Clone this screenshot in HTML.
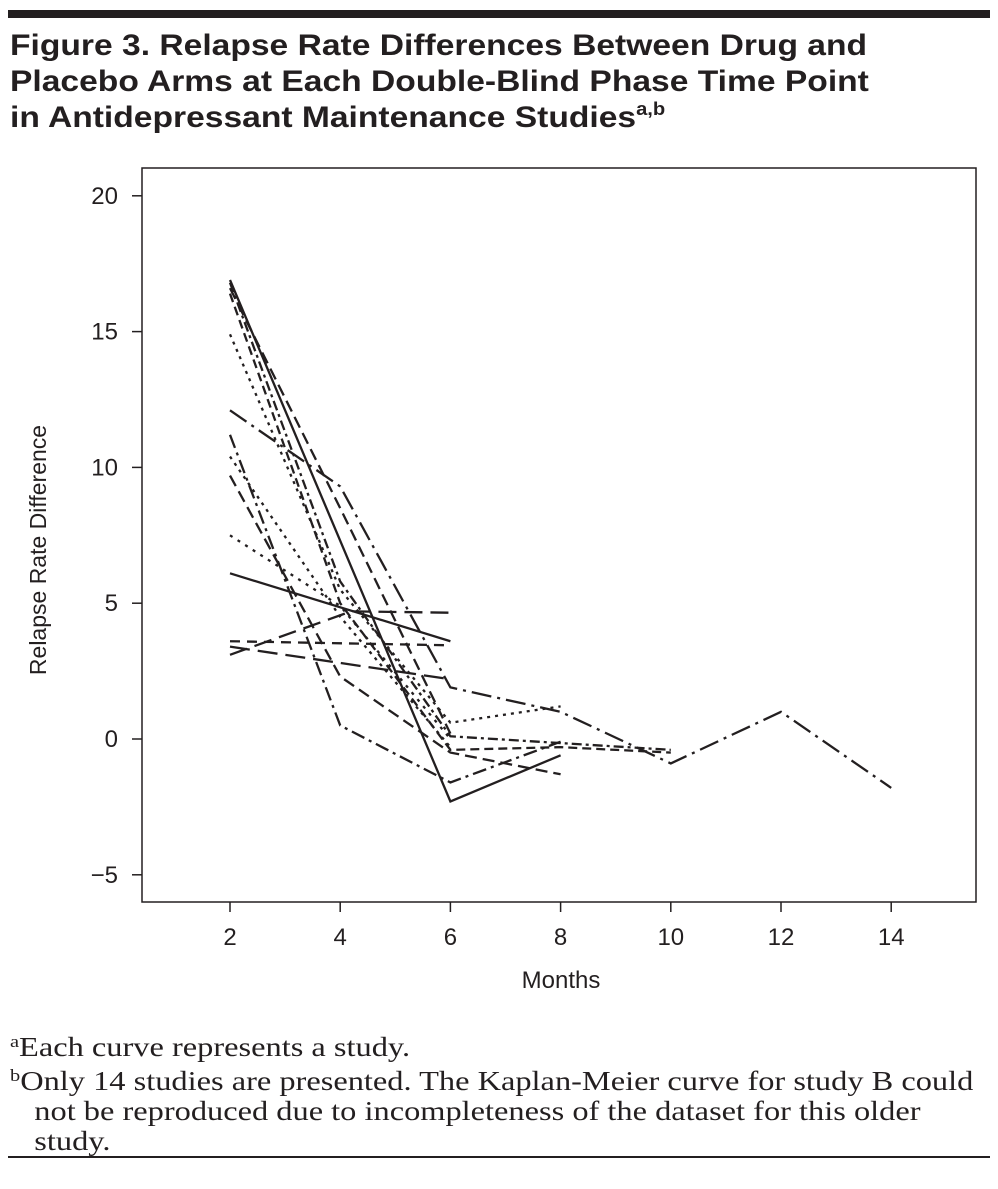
<!DOCTYPE html>
<html><head><meta charset="utf-8"><style>
body{margin:0;width:998px;height:1189px;background:#fff;position:relative;font-family:"Liberation Sans",sans-serif;overflow:hidden}
.rule{position:absolute;left:8px;width:982px;background:#231f20}
#title{position:absolute;left:10px;top:28px;font-weight:bold;font-size:30px;line-height:36px;color:#231f20;transform:scaleX(1.12);transform-origin:0 0;white-space:nowrap}
#title sup{font-size:18px;vertical-align:12px;line-height:0}
.fn{position:absolute;left:10px;font-family:"Liberation Serif",serif;font-size:27px;line-height:30px;color:#231f20;transform:scaleX(1.2);transform-origin:0 0;white-space:nowrap}
.fn sup{font-size:17px;vertical-align:9px;line-height:0}
</style></head><body>
<div class="rule" style="top:10px;height:8px"></div>
<div id="title">Figure 3. Relapse Rate Differences Between Drug and<br>Placebo Arms at Each Double-Blind Phase Time Point<br>in Antidepressant Maintenance Studies<sup>a,b</sup></div>
<svg id="chart" width="998" height="1189" style="position:absolute;left:0;top:0"></svg>
<div class="fn" style="top:1032px"><sup>a</sup>Each curve represents a study.</div>
<div class="fn" style="top:1066px"><sup>b</sup>Only 14 studies are presented. The Kaplan-Meier curve for study B could<br>&nbsp;&nbsp;&nbsp;not be reproduced due to incompleteness of the dataset for this older<br>&nbsp;&nbsp;&nbsp;study.</div>
<div class="rule" style="top:1156px;height:2px"></div>
<script>
const xTicks=[2,4,6,8,10,12,14];
const yTicks=[-5,0,5,10,15,20];
const yTickLabels=["\u22125","0","5","10","15","20"];
const s1=[[2,16.9],[6,-2.3],[8,-0.6]];
const s2=[[2,6.1],[6,3.6]];
const s3=[[2,3.1],[4.2,4.7],[6,4.65]];
const s4=[[2,3.6],[6,3.45]];
const s5=[[2,12.1],[4,9.3],[6,1.9],[8,1.0],[10,-0.9],[12,1.0],[14,-1.8]];
const s6=[[2,16.6],[4,8.5],[6,0.2]];
const s7=[[2,14.9],[4,5.5],[6,0.6],[8,1.2]];
const s8=[[2,10.4],[4,4.5],[6,-0.3]];
const s9=[[2,11.2],[4,0.5],[6,-1.6],[8,-0.1]];
const s10=[[2,9.7],[4,2.3],[6,-0.5],[8,-1.3]];
const s11=[[2,3.4],[4,2.8],[6,2.2]];
const s12=[[2,7.5],[4,4.9],[6,0.0]];
const s13=[[2,16.8],[4,5.8],[6,0.1],[10,-0.4]];
const s14=[[2,16.4],[4,5.0],[6,-0.4],[8,-0.3],[10,-0.5]];
const series=[s1,s2,s3,s4,s5,s6,s7,s8,s9,s10,s11,s12,s13,s14];
const dashes=["","","18 8","10 7","20 6 3 6","12 6","3 5","3 5","14 5 3 5","12 6","20 8","3 6","10 4 3 4","9 5"];
const X=m=>230+(m-2)*55.1, Y=v=>739-v*27.16;
const svg=document.getElementById('chart'),NS="http://www.w3.org/2000/svg";
function mk(t,a){const e=document.createElementNS(NS,t);for(const k in a)e.setAttribute(k,a[k]);svg.appendChild(e);return e;}
let e=mk('rect',{x:142,y:168,width:834,height:734,fill:'none',stroke:'#231f20','stroke-width':1.5});


xTicks.forEach(t=>{
 let l=mk('line',{x1:X(t),x2:X(t),y1:902,y2:912,stroke:'#231f20','stroke-width':1.5});
 
 
 let tx=mk('text',{x:X(t),y:945,'text-anchor':'middle','font-size':24,fill:'#231f20','font-family':'Liberation Sans, sans-serif'});
 tx.textContent=t;
 
 
});
yTicks.forEach((t,i)=>{
 let l=mk('line',{x1:132,x2:142,y1:Y(t),y2:Y(t),stroke:'#231f20','stroke-width':1.5});
 
 
 let tx=mk('text',{x:118,y:Y(t)+8,'text-anchor':'end','font-size':24,fill:'#231f20','font-family':'Liberation Sans, sans-serif'});
 tx.textContent=yTickLabels[i];
 
 
});
let xt=mk('text',{x:561,y:988,'text-anchor':'middle','font-size':24,fill:'#231f20','font-family':'Liberation Sans, sans-serif'});
xt.textContent='Months';


let yt=mk('text',{x:46,y:550,'text-anchor':'middle','font-size':23,fill:'#231f20','font-family':'Liberation Sans, sans-serif',transform:'rotate(-90 46 550)'});
yt.textContent='Relapse Rate Difference';


series.forEach((s,i)=>{
 let p=mk('polyline',{points:s.map(d=>X(d[0])+','+Y(d[1])).join(' '),fill:'none',stroke:'#231f20','stroke-width':2.3,'stroke-dasharray':dashes[i]});
 
 
});
</script>
</body></html>
